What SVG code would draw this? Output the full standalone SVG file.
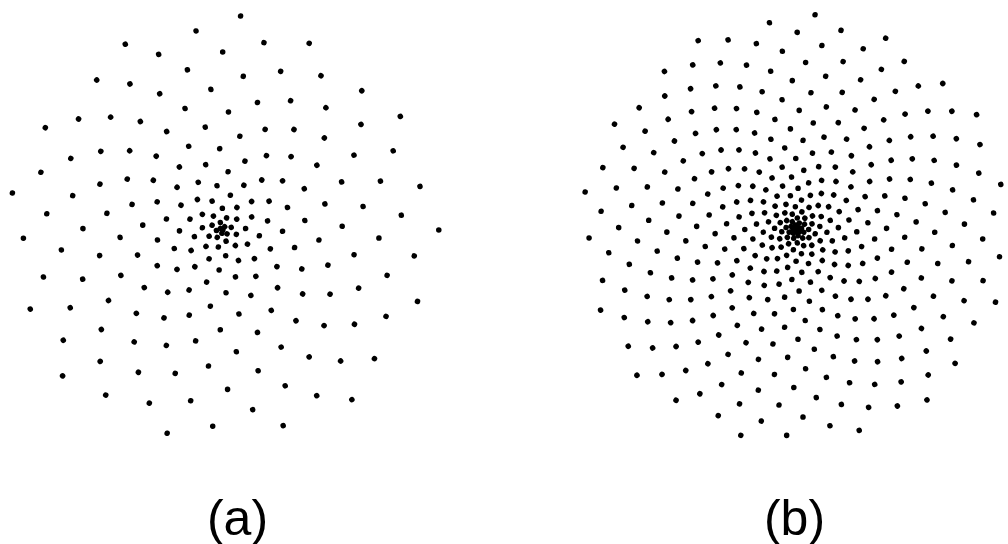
<svg xmlns="http://www.w3.org/2000/svg" width="1008" height="544" viewBox="0 0 1008 544">
<style>
.dots{fill:#000}
.lbl{font-family:"Liberation Sans",Arial,sans-serif;font-size:50px;fill:#000;text-anchor:middle}
</style>
<rect width="1008" height="544" fill="#fff"/>
<g id="spiral-a" class="dots" transform="translate(221.8,230) scale(1.085)">
<g id="a-block0">
<circle cx="200" r="2.56" transform="rotate(0)"/>
<circle cx="199" r="2.56" transform="rotate(137.508)"/>
<circle cx="198" r="2.56" transform="rotate(275.016)"/>
<circle cx="197" r="2.56" transform="rotate(52.524)"/>
<circle cx="196" r="2.56" transform="rotate(190.032)"/>
<circle cx="195" r="2.56" transform="rotate(327.54)"/>
<circle cx="194" r="2.56" transform="rotate(105.048)"/>
<circle cx="193" r="2.56" transform="rotate(242.556)"/>
<circle cx="192" r="2.56" transform="rotate(20.064)"/>
<circle cx="191" r="2.56" transform="rotate(157.572)"/>
<circle cx="190" r="2.56" transform="rotate(295.08)"/>
<circle cx="189" r="2.56" transform="rotate(72.588)"/>
<circle cx="188" r="2.56" transform="rotate(210.096)"/>
<circle cx="187" r="2.56" transform="rotate(347.604)"/>
<circle cx="186" r="2.56" transform="rotate(125.112)"/>
<circle cx="185" r="2.56" transform="rotate(262.62)"/>
<circle cx="184" r="2.56" transform="rotate(40.128)"/>
<circle cx="183" r="2.56" transform="rotate(177.636)"/>
<circle cx="182" r="2.56" transform="rotate(315.144)"/>
<circle cx="181" r="2.56" transform="rotate(92.652)"/>
<circle cx="180" r="2.56" transform="rotate(230.16)"/>
<circle cx="179" r="2.56" transform="rotate(7.668)"/>
<circle cx="178" r="2.56" transform="rotate(145.176)"/>
<circle cx="177" r="2.56" transform="rotate(282.684)"/>
<circle cx="176" r="2.56" transform="rotate(60.192)"/>
<circle cx="175" r="2.56" transform="rotate(197.7)"/>
<circle cx="174" r="2.56" transform="rotate(335.208)"/>
<circle cx="173" r="2.56" transform="rotate(112.716)"/>
<circle cx="172" r="2.56" transform="rotate(250.224)"/>
<circle cx="171" r="2.56" transform="rotate(27.732)"/>
<circle cx="170" r="2.56" transform="rotate(165.24)"/>
<circle cx="169" r="2.56" transform="rotate(302.748)"/>
<circle cx="168" r="2.56" transform="rotate(80.256)"/>
<circle cx="167" r="2.56" transform="rotate(217.764)"/>
<circle cx="166" r="2.56" transform="rotate(355.272)"/>
<circle cx="165" r="2.56" transform="rotate(132.78)"/>
<circle cx="164" r="2.56" transform="rotate(270.288)"/>
<circle cx="163" r="2.56" transform="rotate(47.796)"/>
<circle cx="162" r="2.56" transform="rotate(185.304)"/>
<circle cx="161" r="2.56" transform="rotate(322.812)"/>
<circle cx="160" r="2.56" transform="rotate(100.32)"/>
<circle cx="159" r="2.56" transform="rotate(237.828)"/>
<circle cx="158" r="2.56" transform="rotate(15.336)"/>
<circle cx="157" r="2.56" transform="rotate(152.844)"/>
<circle cx="156" r="2.56" transform="rotate(290.352)"/>
<circle cx="155" r="2.56" transform="rotate(67.86)"/>
<circle cx="154" r="2.56" transform="rotate(205.368)"/>
<circle cx="153" r="2.56" transform="rotate(342.876)"/>
<circle cx="152" r="2.56" transform="rotate(120.384)"/>
<circle cx="151" r="2.56" transform="rotate(257.892)"/>
<circle cx="150" r="2.56" transform="rotate(35.4)"/>
<circle cx="149" r="2.56" transform="rotate(172.908)"/>
<circle cx="148" r="2.56" transform="rotate(310.416)"/>
<circle cx="147" r="2.56" transform="rotate(87.924)"/>
<circle cx="146" r="2.56" transform="rotate(225.432)"/>
<circle cx="145" r="2.56" transform="rotate(2.94)"/>
<circle cx="144" r="2.56" transform="rotate(140.448)"/>
<circle cx="143" r="2.56" transform="rotate(277.956)"/>
<circle cx="142" r="2.56" transform="rotate(55.464)"/>
<circle cx="141" r="2.56" transform="rotate(192.972)"/>
<circle cx="140" r="2.56" transform="rotate(330.48)"/>
<circle cx="139" r="2.56" transform="rotate(107.988)"/>
<circle cx="138" r="2.56" transform="rotate(245.496)"/>
<circle cx="137" r="2.56" transform="rotate(23.004)"/>
<circle cx="136" r="2.56" transform="rotate(160.512)"/>
<circle cx="135" r="2.56" transform="rotate(298.02)"/>
<circle cx="134" r="2.56" transform="rotate(75.528)"/>
<circle cx="133" r="2.56" transform="rotate(213.036)"/>
<circle cx="132" r="2.56" transform="rotate(350.544)"/>
<circle cx="131" r="2.56" transform="rotate(128.052)"/>
<circle cx="130" r="2.56" transform="rotate(265.56)"/>
<circle cx="129" r="2.56" transform="rotate(43.068)"/>
<circle cx="128" r="2.56" transform="rotate(180.576)"/>
<circle cx="127" r="2.56" transform="rotate(318.084)"/>
<circle cx="126" r="2.56" transform="rotate(95.592)"/>
<circle cx="125" r="2.56" transform="rotate(233.1)"/>
<circle cx="124" r="2.56" transform="rotate(10.608)"/>
<circle cx="123" r="2.56" transform="rotate(148.116)"/>
<circle cx="122" r="2.56" transform="rotate(285.624)"/>
<circle cx="121" r="2.56" transform="rotate(63.132)"/>
<circle cx="120" r="2.56" transform="rotate(200.64)"/>
<circle cx="119" r="2.56" transform="rotate(338.148)"/>
<circle cx="118" r="2.56" transform="rotate(115.656)"/>
<circle cx="117" r="2.56" transform="rotate(253.164)"/>
<circle cx="116" r="2.56" transform="rotate(30.672)"/>
<circle cx="115" r="2.56" transform="rotate(168.18)"/>
<circle cx="114" r="2.56" transform="rotate(305.688)"/>
<circle cx="113" r="2.56" transform="rotate(83.196)"/>
<circle cx="112" r="2.56" transform="rotate(220.704)"/>
<circle cx="111" r="2.56" transform="rotate(358.212)"/>
<circle cx="110" r="2.56" transform="rotate(135.72)"/>
<circle cx="109" r="2.56" transform="rotate(273.228)"/>
<circle cx="108" r="2.56" transform="rotate(50.736)"/>
<circle cx="107" r="2.56" transform="rotate(188.244)"/>
<circle cx="106" r="2.56" transform="rotate(325.752)"/>
<circle cx="105" r="2.56" transform="rotate(103.26)"/>
<circle cx="104" r="2.56" transform="rotate(240.768)"/>
<circle cx="103" r="2.56" transform="rotate(18.276)"/>
<circle cx="102" r="2.56" transform="rotate(155.784)"/>
<circle cx="101" r="2.56" transform="rotate(293.292)"/>
</g>
<g id="a-block1" transform="rotate(70.8)">
<circle cx="100" r="2.56" transform="rotate(0)"/>
<circle cx="99" r="2.56" transform="rotate(137.508)"/>
<circle cx="98" r="2.56" transform="rotate(275.016)"/>
<circle cx="97" r="2.56" transform="rotate(52.524)"/>
<circle cx="96" r="2.56" transform="rotate(190.032)"/>
<circle cx="95" r="2.56" transform="rotate(327.54)"/>
<circle cx="94" r="2.56" transform="rotate(105.048)"/>
<circle cx="93" r="2.56" transform="rotate(242.556)"/>
<circle cx="92" r="2.56" transform="rotate(20.064)"/>
<circle cx="91" r="2.56" transform="rotate(157.572)"/>
<circle cx="90" r="2.56" transform="rotate(295.08)"/>
<circle cx="89" r="2.56" transform="rotate(72.588)"/>
<circle cx="88" r="2.56" transform="rotate(210.096)"/>
<circle cx="87" r="2.56" transform="rotate(347.604)"/>
<circle cx="86" r="2.56" transform="rotate(125.112)"/>
<circle cx="85" r="2.56" transform="rotate(262.62)"/>
<circle cx="84" r="2.56" transform="rotate(40.128)"/>
<circle cx="83" r="2.56" transform="rotate(177.636)"/>
<circle cx="82" r="2.56" transform="rotate(315.144)"/>
<circle cx="81" r="2.56" transform="rotate(92.652)"/>
<circle cx="80" r="2.56" transform="rotate(230.16)"/>
<circle cx="79" r="2.56" transform="rotate(7.668)"/>
<circle cx="78" r="2.56" transform="rotate(145.176)"/>
<circle cx="77" r="2.56" transform="rotate(282.684)"/>
<circle cx="76" r="2.56" transform="rotate(60.192)"/>
<circle cx="75" r="2.56" transform="rotate(197.7)"/>
<circle cx="74" r="2.56" transform="rotate(335.208)"/>
<circle cx="73" r="2.56" transform="rotate(112.716)"/>
<circle cx="72" r="2.56" transform="rotate(250.224)"/>
<circle cx="71" r="2.56" transform="rotate(27.732)"/>
<circle cx="70" r="2.56" transform="rotate(165.24)"/>
<circle cx="69" r="2.56" transform="rotate(302.748)"/>
<circle cx="68" r="2.56" transform="rotate(80.256)"/>
<circle cx="67" r="2.56" transform="rotate(217.764)"/>
<circle cx="66" r="2.56" transform="rotate(355.272)"/>
<circle cx="65" r="2.56" transform="rotate(132.78)"/>
<circle cx="64" r="2.56" transform="rotate(270.288)"/>
<circle cx="63" r="2.56" transform="rotate(47.796)"/>
<circle cx="62" r="2.56" transform="rotate(185.304)"/>
<circle cx="61" r="2.56" transform="rotate(322.812)"/>
<circle cx="60" r="2.56" transform="rotate(100.32)"/>
<circle cx="59" r="2.56" transform="rotate(237.828)"/>
<circle cx="58" r="2.56" transform="rotate(15.336)"/>
<circle cx="57" r="2.56" transform="rotate(152.844)"/>
<circle cx="56" r="2.56" transform="rotate(290.352)"/>
<circle cx="55" r="2.56" transform="rotate(67.86)"/>
<circle cx="54" r="2.56" transform="rotate(205.368)"/>
<circle cx="53" r="2.56" transform="rotate(342.876)"/>
<circle cx="52" r="2.56" transform="rotate(120.384)"/>
<circle cx="51" r="2.56" transform="rotate(257.892)"/>
<circle cx="50" r="2.56" transform="rotate(35.4)"/>
<circle cx="49" r="2.56" transform="rotate(172.908)"/>
<circle cx="48" r="2.56" transform="rotate(310.416)"/>
<circle cx="47" r="2.56" transform="rotate(87.924)"/>
<circle cx="46" r="2.56" transform="rotate(225.432)"/>
<circle cx="45" r="2.56" transform="rotate(2.94)"/>
<circle cx="44" r="2.56" transform="rotate(140.448)"/>
<circle cx="43" r="2.56" transform="rotate(277.956)"/>
<circle cx="42" r="2.56" transform="rotate(55.464)"/>
<circle cx="41" r="2.56" transform="rotate(192.972)"/>
<circle cx="40" r="2.56" transform="rotate(330.48)"/>
<circle cx="39" r="2.56" transform="rotate(107.988)"/>
<circle cx="38" r="2.56" transform="rotate(245.496)"/>
<circle cx="37" r="2.56" transform="rotate(23.004)"/>
<circle cx="36" r="2.56" transform="rotate(160.512)"/>
<circle cx="35" r="2.56" transform="rotate(298.02)"/>
<circle cx="34" r="2.56" transform="rotate(75.528)"/>
<circle cx="33" r="2.56" transform="rotate(213.036)"/>
<circle cx="32" r="2.56" transform="rotate(350.544)"/>
<circle cx="31" r="2.56" transform="rotate(128.052)"/>
<circle cx="30" r="2.56" transform="rotate(265.56)"/>
<circle cx="29" r="2.56" transform="rotate(43.068)"/>
<circle cx="28" r="2.56" transform="rotate(180.576)"/>
<circle cx="27" r="2.56" transform="rotate(318.084)"/>
<circle cx="26" r="2.56" transform="rotate(95.592)"/>
<circle cx="25" r="2.56" transform="rotate(233.1)"/>
<circle cx="24" r="2.56" transform="rotate(10.608)"/>
<circle cx="23" r="2.56" transform="rotate(148.116)"/>
<circle cx="22" r="2.56" transform="rotate(285.624)"/>
<circle cx="21" r="2.56" transform="rotate(63.132)"/>
<circle cx="20" r="2.56" transform="rotate(200.64)"/>
<circle cx="19" r="2.56" transform="rotate(338.148)"/>
<circle cx="18" r="2.56" transform="rotate(115.656)"/>
<circle cx="17" r="2.56" transform="rotate(253.164)"/>
<circle cx="16" r="2.56" transform="rotate(30.672)"/>
<circle cx="15" r="2.56" transform="rotate(168.18)"/>
<circle cx="14" r="2.56" transform="rotate(305.688)"/>
<circle cx="13" r="2.56" transform="rotate(83.196)"/>
<circle cx="12" r="2.56" transform="rotate(220.704)"/>
<circle cx="11" r="2.56" transform="rotate(358.212)"/>
<circle cx="10" r="2.56" transform="rotate(135.72)"/>
<circle cx="9" r="2.56" transform="rotate(273.228)"/>
<circle cx="8" r="2.56" transform="rotate(50.736)"/>
<circle cx="7" r="2.56" transform="rotate(188.244)"/>
<circle cx="6" r="2.56" transform="rotate(325.752)"/>
<circle cx="5" r="2.56" transform="rotate(103.26)"/>
<circle cx="4" r="2.56" transform="rotate(240.768)"/>
<circle cx="3" r="2.56" transform="rotate(18.276)"/>
<circle cx="2" r="2.56" transform="rotate(155.784)"/>
<circle cx="1" r="2.56" transform="rotate(293.292)"/>
</g>
</g>
<g id="spiral-b" class="dots" transform="translate(796.2,229.4) scale(0.54125)">
<g id="b-block0">
<circle cx="400" r="5.13" transform="rotate(0)"/>
<circle cx="399" r="5.13" transform="rotate(137.508)"/>
<circle cx="398" r="5.13" transform="rotate(275.016)"/>
<circle cx="397" r="5.13" transform="rotate(52.524)"/>
<circle cx="396" r="5.13" transform="rotate(190.032)"/>
<circle cx="395" r="5.13" transform="rotate(327.54)"/>
<circle cx="394" r="5.13" transform="rotate(105.048)"/>
<circle cx="393" r="5.13" transform="rotate(242.556)"/>
<circle cx="392" r="5.13" transform="rotate(20.064)"/>
<circle cx="391" r="5.13" transform="rotate(157.572)"/>
<circle cx="390" r="5.13" transform="rotate(295.08)"/>
<circle cx="389" r="5.13" transform="rotate(72.588)"/>
<circle cx="388" r="5.13" transform="rotate(210.096)"/>
<circle cx="387" r="5.13" transform="rotate(347.604)"/>
<circle cx="386" r="5.13" transform="rotate(125.112)"/>
<circle cx="385" r="5.13" transform="rotate(262.62)"/>
<circle cx="384" r="5.13" transform="rotate(40.128)"/>
<circle cx="383" r="5.13" transform="rotate(177.636)"/>
<circle cx="382" r="5.13" transform="rotate(315.144)"/>
<circle cx="381" r="5.13" transform="rotate(92.652)"/>
<circle cx="380" r="5.13" transform="rotate(230.16)"/>
<circle cx="379" r="5.13" transform="rotate(7.668)"/>
<circle cx="378" r="5.13" transform="rotate(145.176)"/>
<circle cx="377" r="5.13" transform="rotate(282.684)"/>
<circle cx="376" r="5.13" transform="rotate(60.192)"/>
<circle cx="375" r="5.13" transform="rotate(197.7)"/>
<circle cx="374" r="5.13" transform="rotate(335.208)"/>
<circle cx="373" r="5.13" transform="rotate(112.716)"/>
<circle cx="372" r="5.13" transform="rotate(250.224)"/>
<circle cx="371" r="5.13" transform="rotate(27.732)"/>
<circle cx="370" r="5.13" transform="rotate(165.24)"/>
<circle cx="369" r="5.13" transform="rotate(302.748)"/>
<circle cx="368" r="5.13" transform="rotate(80.256)"/>
<circle cx="367" r="5.13" transform="rotate(217.764)"/>
<circle cx="366" r="5.13" transform="rotate(355.272)"/>
<circle cx="365" r="5.13" transform="rotate(132.78)"/>
<circle cx="364" r="5.13" transform="rotate(270.288)"/>
<circle cx="363" r="5.13" transform="rotate(47.796)"/>
<circle cx="362" r="5.13" transform="rotate(185.304)"/>
<circle cx="361" r="5.13" transform="rotate(322.812)"/>
<circle cx="360" r="5.13" transform="rotate(100.32)"/>
<circle cx="359" r="5.13" transform="rotate(237.828)"/>
<circle cx="358" r="5.13" transform="rotate(15.336)"/>
<circle cx="357" r="5.13" transform="rotate(152.844)"/>
<circle cx="356" r="5.13" transform="rotate(290.352)"/>
<circle cx="355" r="5.13" transform="rotate(67.86)"/>
<circle cx="354" r="5.13" transform="rotate(205.368)"/>
<circle cx="353" r="5.13" transform="rotate(342.876)"/>
<circle cx="352" r="5.13" transform="rotate(120.384)"/>
<circle cx="351" r="5.13" transform="rotate(257.892)"/>
<circle cx="350" r="5.13" transform="rotate(35.4)"/>
<circle cx="349" r="5.13" transform="rotate(172.908)"/>
<circle cx="348" r="5.13" transform="rotate(310.416)"/>
<circle cx="347" r="5.13" transform="rotate(87.924)"/>
<circle cx="346" r="5.13" transform="rotate(225.432)"/>
<circle cx="345" r="5.13" transform="rotate(2.94)"/>
<circle cx="344" r="5.13" transform="rotate(140.448)"/>
<circle cx="343" r="5.13" transform="rotate(277.956)"/>
<circle cx="342" r="5.13" transform="rotate(55.464)"/>
<circle cx="341" r="5.13" transform="rotate(192.972)"/>
<circle cx="340" r="5.13" transform="rotate(330.48)"/>
<circle cx="339" r="5.13" transform="rotate(107.988)"/>
<circle cx="338" r="5.13" transform="rotate(245.496)"/>
<circle cx="337" r="5.13" transform="rotate(23.004)"/>
<circle cx="336" r="5.13" transform="rotate(160.512)"/>
<circle cx="335" r="5.13" transform="rotate(298.02)"/>
<circle cx="334" r="5.13" transform="rotate(75.528)"/>
<circle cx="333" r="5.13" transform="rotate(213.036)"/>
<circle cx="332" r="5.13" transform="rotate(350.544)"/>
<circle cx="331" r="5.13" transform="rotate(128.052)"/>
<circle cx="330" r="5.13" transform="rotate(265.56)"/>
<circle cx="329" r="5.13" transform="rotate(43.068)"/>
<circle cx="328" r="5.13" transform="rotate(180.576)"/>
<circle cx="327" r="5.13" transform="rotate(318.084)"/>
<circle cx="326" r="5.13" transform="rotate(95.592)"/>
<circle cx="325" r="5.13" transform="rotate(233.1)"/>
<circle cx="324" r="5.13" transform="rotate(10.608)"/>
<circle cx="323" r="5.13" transform="rotate(148.116)"/>
<circle cx="322" r="5.13" transform="rotate(285.624)"/>
<circle cx="321" r="5.13" transform="rotate(63.132)"/>
<circle cx="320" r="5.13" transform="rotate(200.64)"/>
<circle cx="319" r="5.13" transform="rotate(338.148)"/>
<circle cx="318" r="5.13" transform="rotate(115.656)"/>
<circle cx="317" r="5.13" transform="rotate(253.164)"/>
<circle cx="316" r="5.13" transform="rotate(30.672)"/>
<circle cx="315" r="5.13" transform="rotate(168.18)"/>
<circle cx="314" r="5.13" transform="rotate(305.688)"/>
<circle cx="313" r="5.13" transform="rotate(83.196)"/>
<circle cx="312" r="5.13" transform="rotate(220.704)"/>
<circle cx="311" r="5.13" transform="rotate(358.212)"/>
<circle cx="310" r="5.13" transform="rotate(135.72)"/>
<circle cx="309" r="5.13" transform="rotate(273.228)"/>
<circle cx="308" r="5.13" transform="rotate(50.736)"/>
<circle cx="307" r="5.13" transform="rotate(188.244)"/>
<circle cx="306" r="5.13" transform="rotate(325.752)"/>
<circle cx="305" r="5.13" transform="rotate(103.26)"/>
<circle cx="304" r="5.13" transform="rotate(240.768)"/>
<circle cx="303" r="5.13" transform="rotate(18.276)"/>
<circle cx="302" r="5.13" transform="rotate(155.784)"/>
<circle cx="301" r="5.13" transform="rotate(293.292)"/>
</g>
<g id="b-block1" transform="rotate(70.8)">
<circle cx="300" r="5.13" transform="rotate(0)"/>
<circle cx="299" r="5.13" transform="rotate(137.508)"/>
<circle cx="298" r="5.13" transform="rotate(275.016)"/>
<circle cx="297" r="5.13" transform="rotate(52.524)"/>
<circle cx="296" r="5.13" transform="rotate(190.032)"/>
<circle cx="295" r="5.13" transform="rotate(327.54)"/>
<circle cx="294" r="5.13" transform="rotate(105.048)"/>
<circle cx="293" r="5.13" transform="rotate(242.556)"/>
<circle cx="292" r="5.13" transform="rotate(20.064)"/>
<circle cx="291" r="5.13" transform="rotate(157.572)"/>
<circle cx="290" r="5.13" transform="rotate(295.08)"/>
<circle cx="289" r="5.13" transform="rotate(72.588)"/>
<circle cx="288" r="5.13" transform="rotate(210.096)"/>
<circle cx="287" r="5.13" transform="rotate(347.604)"/>
<circle cx="286" r="5.13" transform="rotate(125.112)"/>
<circle cx="285" r="5.13" transform="rotate(262.62)"/>
<circle cx="284" r="5.13" transform="rotate(40.128)"/>
<circle cx="283" r="5.13" transform="rotate(177.636)"/>
<circle cx="282" r="5.13" transform="rotate(315.144)"/>
<circle cx="281" r="5.13" transform="rotate(92.652)"/>
<circle cx="280" r="5.13" transform="rotate(230.16)"/>
<circle cx="279" r="5.13" transform="rotate(7.668)"/>
<circle cx="278" r="5.13" transform="rotate(145.176)"/>
<circle cx="277" r="5.13" transform="rotate(282.684)"/>
<circle cx="276" r="5.13" transform="rotate(60.192)"/>
<circle cx="275" r="5.13" transform="rotate(197.7)"/>
<circle cx="274" r="5.13" transform="rotate(335.208)"/>
<circle cx="273" r="5.13" transform="rotate(112.716)"/>
<circle cx="272" r="5.13" transform="rotate(250.224)"/>
<circle cx="271" r="5.13" transform="rotate(27.732)"/>
<circle cx="270" r="5.13" transform="rotate(165.24)"/>
<circle cx="269" r="5.13" transform="rotate(302.748)"/>
<circle cx="268" r="5.13" transform="rotate(80.256)"/>
<circle cx="267" r="5.13" transform="rotate(217.764)"/>
<circle cx="266" r="5.13" transform="rotate(355.272)"/>
<circle cx="265" r="5.13" transform="rotate(132.78)"/>
<circle cx="264" r="5.13" transform="rotate(270.288)"/>
<circle cx="263" r="5.13" transform="rotate(47.796)"/>
<circle cx="262" r="5.13" transform="rotate(185.304)"/>
<circle cx="261" r="5.13" transform="rotate(322.812)"/>
<circle cx="260" r="5.13" transform="rotate(100.32)"/>
<circle cx="259" r="5.13" transform="rotate(237.828)"/>
<circle cx="258" r="5.13" transform="rotate(15.336)"/>
<circle cx="257" r="5.13" transform="rotate(152.844)"/>
<circle cx="256" r="5.13" transform="rotate(290.352)"/>
<circle cx="255" r="5.13" transform="rotate(67.86)"/>
<circle cx="254" r="5.13" transform="rotate(205.368)"/>
<circle cx="253" r="5.13" transform="rotate(342.876)"/>
<circle cx="252" r="5.13" transform="rotate(120.384)"/>
<circle cx="251" r="5.13" transform="rotate(257.892)"/>
<circle cx="250" r="5.13" transform="rotate(35.4)"/>
<circle cx="249" r="5.13" transform="rotate(172.908)"/>
<circle cx="248" r="5.13" transform="rotate(310.416)"/>
<circle cx="247" r="5.13" transform="rotate(87.924)"/>
<circle cx="246" r="5.13" transform="rotate(225.432)"/>
<circle cx="245" r="5.13" transform="rotate(2.94)"/>
<circle cx="244" r="5.13" transform="rotate(140.448)"/>
<circle cx="243" r="5.13" transform="rotate(277.956)"/>
<circle cx="242" r="5.13" transform="rotate(55.464)"/>
<circle cx="241" r="5.13" transform="rotate(192.972)"/>
<circle cx="240" r="5.13" transform="rotate(330.48)"/>
<circle cx="239" r="5.13" transform="rotate(107.988)"/>
<circle cx="238" r="5.13" transform="rotate(245.496)"/>
<circle cx="237" r="5.13" transform="rotate(23.004)"/>
<circle cx="236" r="5.13" transform="rotate(160.512)"/>
<circle cx="235" r="5.13" transform="rotate(298.02)"/>
<circle cx="234" r="5.13" transform="rotate(75.528)"/>
<circle cx="233" r="5.13" transform="rotate(213.036)"/>
<circle cx="232" r="5.13" transform="rotate(350.544)"/>
<circle cx="231" r="5.13" transform="rotate(128.052)"/>
<circle cx="230" r="5.13" transform="rotate(265.56)"/>
<circle cx="229" r="5.13" transform="rotate(43.068)"/>
<circle cx="228" r="5.13" transform="rotate(180.576)"/>
<circle cx="227" r="5.13" transform="rotate(318.084)"/>
<circle cx="226" r="5.13" transform="rotate(95.592)"/>
<circle cx="225" r="5.13" transform="rotate(233.1)"/>
<circle cx="224" r="5.13" transform="rotate(10.608)"/>
<circle cx="223" r="5.13" transform="rotate(148.116)"/>
<circle cx="222" r="5.13" transform="rotate(285.624)"/>
<circle cx="221" r="5.13" transform="rotate(63.132)"/>
<circle cx="220" r="5.13" transform="rotate(200.64)"/>
<circle cx="219" r="5.13" transform="rotate(338.148)"/>
<circle cx="218" r="5.13" transform="rotate(115.656)"/>
<circle cx="217" r="5.13" transform="rotate(253.164)"/>
<circle cx="216" r="5.13" transform="rotate(30.672)"/>
<circle cx="215" r="5.13" transform="rotate(168.18)"/>
<circle cx="214" r="5.13" transform="rotate(305.688)"/>
<circle cx="213" r="5.13" transform="rotate(83.196)"/>
<circle cx="212" r="5.13" transform="rotate(220.704)"/>
<circle cx="211" r="5.13" transform="rotate(358.212)"/>
<circle cx="210" r="5.13" transform="rotate(135.72)"/>
<circle cx="209" r="5.13" transform="rotate(273.228)"/>
<circle cx="208" r="5.13" transform="rotate(50.736)"/>
<circle cx="207" r="5.13" transform="rotate(188.244)"/>
<circle cx="206" r="5.13" transform="rotate(325.752)"/>
<circle cx="205" r="5.13" transform="rotate(103.26)"/>
<circle cx="204" r="5.13" transform="rotate(240.768)"/>
<circle cx="203" r="5.13" transform="rotate(18.276)"/>
<circle cx="202" r="5.13" transform="rotate(155.784)"/>
<circle cx="201" r="5.13" transform="rotate(293.292)"/>
</g>
<g id="b-block2" transform="rotate(141.6)">
<circle cx="200" r="5.13" transform="rotate(0)"/>
<circle cx="199" r="5.13" transform="rotate(137.508)"/>
<circle cx="198" r="5.13" transform="rotate(275.016)"/>
<circle cx="197" r="5.13" transform="rotate(52.524)"/>
<circle cx="196" r="5.13" transform="rotate(190.032)"/>
<circle cx="195" r="5.13" transform="rotate(327.54)"/>
<circle cx="194" r="5.13" transform="rotate(105.048)"/>
<circle cx="193" r="5.13" transform="rotate(242.556)"/>
<circle cx="192" r="5.13" transform="rotate(20.064)"/>
<circle cx="191" r="5.13" transform="rotate(157.572)"/>
<circle cx="190" r="5.13" transform="rotate(295.08)"/>
<circle cx="189" r="5.13" transform="rotate(72.588)"/>
<circle cx="188" r="5.13" transform="rotate(210.096)"/>
<circle cx="187" r="5.13" transform="rotate(347.604)"/>
<circle cx="186" r="5.13" transform="rotate(125.112)"/>
<circle cx="185" r="5.13" transform="rotate(262.62)"/>
<circle cx="184" r="5.13" transform="rotate(40.128)"/>
<circle cx="183" r="5.13" transform="rotate(177.636)"/>
<circle cx="182" r="5.13" transform="rotate(315.144)"/>
<circle cx="181" r="5.13" transform="rotate(92.652)"/>
<circle cx="180" r="5.13" transform="rotate(230.16)"/>
<circle cx="179" r="5.13" transform="rotate(7.668)"/>
<circle cx="178" r="5.13" transform="rotate(145.176)"/>
<circle cx="177" r="5.13" transform="rotate(282.684)"/>
<circle cx="176" r="5.13" transform="rotate(60.192)"/>
<circle cx="175" r="5.13" transform="rotate(197.7)"/>
<circle cx="174" r="5.13" transform="rotate(335.208)"/>
<circle cx="173" r="5.13" transform="rotate(112.716)"/>
<circle cx="172" r="5.13" transform="rotate(250.224)"/>
<circle cx="171" r="5.13" transform="rotate(27.732)"/>
<circle cx="170" r="5.13" transform="rotate(165.24)"/>
<circle cx="169" r="5.13" transform="rotate(302.748)"/>
<circle cx="168" r="5.13" transform="rotate(80.256)"/>
<circle cx="167" r="5.13" transform="rotate(217.764)"/>
<circle cx="166" r="5.13" transform="rotate(355.272)"/>
<circle cx="165" r="5.13" transform="rotate(132.78)"/>
<circle cx="164" r="5.13" transform="rotate(270.288)"/>
<circle cx="163" r="5.13" transform="rotate(47.796)"/>
<circle cx="162" r="5.13" transform="rotate(185.304)"/>
<circle cx="161" r="5.13" transform="rotate(322.812)"/>
<circle cx="160" r="5.13" transform="rotate(100.32)"/>
<circle cx="159" r="5.13" transform="rotate(237.828)"/>
<circle cx="158" r="5.13" transform="rotate(15.336)"/>
<circle cx="157" r="5.13" transform="rotate(152.844)"/>
<circle cx="156" r="5.13" transform="rotate(290.352)"/>
<circle cx="155" r="5.13" transform="rotate(67.86)"/>
<circle cx="154" r="5.13" transform="rotate(205.368)"/>
<circle cx="153" r="5.13" transform="rotate(342.876)"/>
<circle cx="152" r="5.13" transform="rotate(120.384)"/>
<circle cx="151" r="5.13" transform="rotate(257.892)"/>
<circle cx="150" r="5.13" transform="rotate(35.4)"/>
<circle cx="149" r="5.13" transform="rotate(172.908)"/>
<circle cx="148" r="5.13" transform="rotate(310.416)"/>
<circle cx="147" r="5.13" transform="rotate(87.924)"/>
<circle cx="146" r="5.13" transform="rotate(225.432)"/>
<circle cx="145" r="5.13" transform="rotate(2.94)"/>
<circle cx="144" r="5.13" transform="rotate(140.448)"/>
<circle cx="143" r="5.13" transform="rotate(277.956)"/>
<circle cx="142" r="5.13" transform="rotate(55.464)"/>
<circle cx="141" r="5.13" transform="rotate(192.972)"/>
<circle cx="140" r="5.13" transform="rotate(330.48)"/>
<circle cx="139" r="5.13" transform="rotate(107.988)"/>
<circle cx="138" r="5.13" transform="rotate(245.496)"/>
<circle cx="137" r="5.13" transform="rotate(23.004)"/>
<circle cx="136" r="5.13" transform="rotate(160.512)"/>
<circle cx="135" r="5.13" transform="rotate(298.02)"/>
<circle cx="134" r="5.13" transform="rotate(75.528)"/>
<circle cx="133" r="5.13" transform="rotate(213.036)"/>
<circle cx="132" r="5.13" transform="rotate(350.544)"/>
<circle cx="131" r="5.13" transform="rotate(128.052)"/>
<circle cx="130" r="5.13" transform="rotate(265.56)"/>
<circle cx="129" r="5.13" transform="rotate(43.068)"/>
<circle cx="128" r="5.13" transform="rotate(180.576)"/>
<circle cx="127" r="5.13" transform="rotate(318.084)"/>
<circle cx="126" r="5.13" transform="rotate(95.592)"/>
<circle cx="125" r="5.13" transform="rotate(233.1)"/>
<circle cx="124" r="5.13" transform="rotate(10.608)"/>
<circle cx="123" r="5.13" transform="rotate(148.116)"/>
<circle cx="122" r="5.13" transform="rotate(285.624)"/>
<circle cx="121" r="5.13" transform="rotate(63.132)"/>
<circle cx="120" r="5.13" transform="rotate(200.64)"/>
<circle cx="119" r="5.13" transform="rotate(338.148)"/>
<circle cx="118" r="5.13" transform="rotate(115.656)"/>
<circle cx="117" r="5.13" transform="rotate(253.164)"/>
<circle cx="116" r="5.13" transform="rotate(30.672)"/>
<circle cx="115" r="5.13" transform="rotate(168.18)"/>
<circle cx="114" r="5.13" transform="rotate(305.688)"/>
<circle cx="113" r="5.13" transform="rotate(83.196)"/>
<circle cx="112" r="5.13" transform="rotate(220.704)"/>
<circle cx="111" r="5.13" transform="rotate(358.212)"/>
<circle cx="110" r="5.13" transform="rotate(135.72)"/>
<circle cx="109" r="5.13" transform="rotate(273.228)"/>
<circle cx="108" r="5.13" transform="rotate(50.736)"/>
<circle cx="107" r="5.13" transform="rotate(188.244)"/>
<circle cx="106" r="5.13" transform="rotate(325.752)"/>
<circle cx="105" r="5.13" transform="rotate(103.26)"/>
<circle cx="104" r="5.13" transform="rotate(240.768)"/>
<circle cx="103" r="5.13" transform="rotate(18.276)"/>
<circle cx="102" r="5.13" transform="rotate(155.784)"/>
<circle cx="101" r="5.13" transform="rotate(293.292)"/>
</g>
<g id="b-block3" transform="rotate(212.4)">
<circle cx="100" r="5.13" transform="rotate(0)"/>
<circle cx="99" r="5.13" transform="rotate(137.508)"/>
<circle cx="98" r="5.13" transform="rotate(275.016)"/>
<circle cx="97" r="5.13" transform="rotate(52.524)"/>
<circle cx="96" r="5.13" transform="rotate(190.032)"/>
<circle cx="95" r="5.13" transform="rotate(327.54)"/>
<circle cx="94" r="5.13" transform="rotate(105.048)"/>
<circle cx="93" r="5.13" transform="rotate(242.556)"/>
<circle cx="92" r="5.13" transform="rotate(20.064)"/>
<circle cx="91" r="5.13" transform="rotate(157.572)"/>
<circle cx="90" r="5.13" transform="rotate(295.08)"/>
<circle cx="89" r="5.13" transform="rotate(72.588)"/>
<circle cx="88" r="5.13" transform="rotate(210.096)"/>
<circle cx="87" r="5.13" transform="rotate(347.604)"/>
<circle cx="86" r="5.13" transform="rotate(125.112)"/>
<circle cx="85" r="5.13" transform="rotate(262.62)"/>
<circle cx="84" r="5.13" transform="rotate(40.128)"/>
<circle cx="83" r="5.13" transform="rotate(177.636)"/>
<circle cx="82" r="5.13" transform="rotate(315.144)"/>
<circle cx="81" r="5.13" transform="rotate(92.652)"/>
<circle cx="80" r="5.13" transform="rotate(230.16)"/>
<circle cx="79" r="5.13" transform="rotate(7.668)"/>
<circle cx="78" r="5.13" transform="rotate(145.176)"/>
<circle cx="77" r="5.13" transform="rotate(282.684)"/>
<circle cx="76" r="5.13" transform="rotate(60.192)"/>
<circle cx="75" r="5.13" transform="rotate(197.7)"/>
<circle cx="74" r="5.13" transform="rotate(335.208)"/>
<circle cx="73" r="5.13" transform="rotate(112.716)"/>
<circle cx="72" r="5.13" transform="rotate(250.224)"/>
<circle cx="71" r="5.13" transform="rotate(27.732)"/>
<circle cx="70" r="5.13" transform="rotate(165.24)"/>
<circle cx="69" r="5.13" transform="rotate(302.748)"/>
<circle cx="68" r="5.13" transform="rotate(80.256)"/>
<circle cx="67" r="5.13" transform="rotate(217.764)"/>
<circle cx="66" r="5.13" transform="rotate(355.272)"/>
<circle cx="65" r="5.13" transform="rotate(132.78)"/>
<circle cx="64" r="5.13" transform="rotate(270.288)"/>
<circle cx="63" r="5.13" transform="rotate(47.796)"/>
<circle cx="62" r="5.13" transform="rotate(185.304)"/>
<circle cx="61" r="5.13" transform="rotate(322.812)"/>
<circle cx="60" r="5.13" transform="rotate(100.32)"/>
<circle cx="59" r="5.13" transform="rotate(237.828)"/>
<circle cx="58" r="5.13" transform="rotate(15.336)"/>
<circle cx="57" r="5.13" transform="rotate(152.844)"/>
<circle cx="56" r="5.13" transform="rotate(290.352)"/>
<circle cx="55" r="5.13" transform="rotate(67.86)"/>
<circle cx="54" r="5.13" transform="rotate(205.368)"/>
<circle cx="53" r="5.13" transform="rotate(342.876)"/>
<circle cx="52" r="5.13" transform="rotate(120.384)"/>
<circle cx="51" r="5.13" transform="rotate(257.892)"/>
<circle cx="50" r="5.13" transform="rotate(35.4)"/>
<circle cx="49" r="5.13" transform="rotate(172.908)"/>
<circle cx="48" r="5.13" transform="rotate(310.416)"/>
<circle cx="47" r="5.13" transform="rotate(87.924)"/>
<circle cx="46" r="5.13" transform="rotate(225.432)"/>
<circle cx="45" r="5.13" transform="rotate(2.94)"/>
<circle cx="44" r="5.13" transform="rotate(140.448)"/>
<circle cx="43" r="5.13" transform="rotate(277.956)"/>
<circle cx="42" r="5.13" transform="rotate(55.464)"/>
<circle cx="41" r="5.13" transform="rotate(192.972)"/>
<circle cx="40" r="5.13" transform="rotate(330.48)"/>
<circle cx="39" r="5.13" transform="rotate(107.988)"/>
<circle cx="38" r="5.13" transform="rotate(245.496)"/>
<circle cx="37" r="5.13" transform="rotate(23.004)"/>
<circle cx="36" r="5.13" transform="rotate(160.512)"/>
<circle cx="35" r="5.13" transform="rotate(298.02)"/>
<circle cx="34" r="5.13" transform="rotate(75.528)"/>
<circle cx="33" r="5.13" transform="rotate(213.036)"/>
<circle cx="32" r="5.13" transform="rotate(350.544)"/>
<circle cx="31" r="5.13" transform="rotate(128.052)"/>
<circle cx="30" r="5.13" transform="rotate(265.56)"/>
<circle cx="29" r="5.13" transform="rotate(43.068)"/>
<circle cx="28" r="5.13" transform="rotate(180.576)"/>
<circle cx="27" r="5.13" transform="rotate(318.084)"/>
<circle cx="26" r="5.13" transform="rotate(95.592)"/>
<circle cx="25" r="5.13" transform="rotate(233.1)"/>
<circle cx="24" r="5.13" transform="rotate(10.608)"/>
<circle cx="23" r="5.13" transform="rotate(148.116)"/>
<circle cx="22" r="5.13" transform="rotate(285.624)"/>
<circle cx="21" r="5.13" transform="rotate(63.132)"/>
<circle cx="20" r="5.13" transform="rotate(200.64)"/>
<circle cx="19" r="5.13" transform="rotate(338.148)"/>
<circle cx="18" r="5.13" transform="rotate(115.656)"/>
<circle cx="17" r="5.13" transform="rotate(253.164)"/>
<circle cx="16" r="5.13" transform="rotate(30.672)"/>
<circle cx="15" r="5.13" transform="rotate(168.18)"/>
<circle cx="14" r="5.13" transform="rotate(305.688)"/>
<circle cx="13" r="5.13" transform="rotate(83.196)"/>
<circle cx="12" r="5.13" transform="rotate(220.704)"/>
<circle cx="11" r="5.13" transform="rotate(358.212)"/>
<circle cx="10" r="5.13" transform="rotate(135.72)"/>
<circle cx="9" r="5.13" transform="rotate(273.228)"/>
<circle cx="8" r="5.13" transform="rotate(50.736)"/>
<circle cx="7" r="5.13" transform="rotate(188.244)"/>
<circle cx="6" r="5.13" transform="rotate(325.752)"/>
<circle cx="5" r="5.13" transform="rotate(103.26)"/>
<circle cx="4" r="5.13" transform="rotate(240.768)"/>
<circle cx="3" r="5.13" transform="rotate(18.276)"/>
<circle cx="2" r="5.13" transform="rotate(155.784)"/>
<circle cx="1" r="5.13" transform="rotate(293.292)"/>
</g>
</g>
<text id="label-a" class="lbl" x="237.5" y="535">(a)</text>
<text id="label-b" class="lbl" x="794.5" y="535">(b)</text>
</svg>
